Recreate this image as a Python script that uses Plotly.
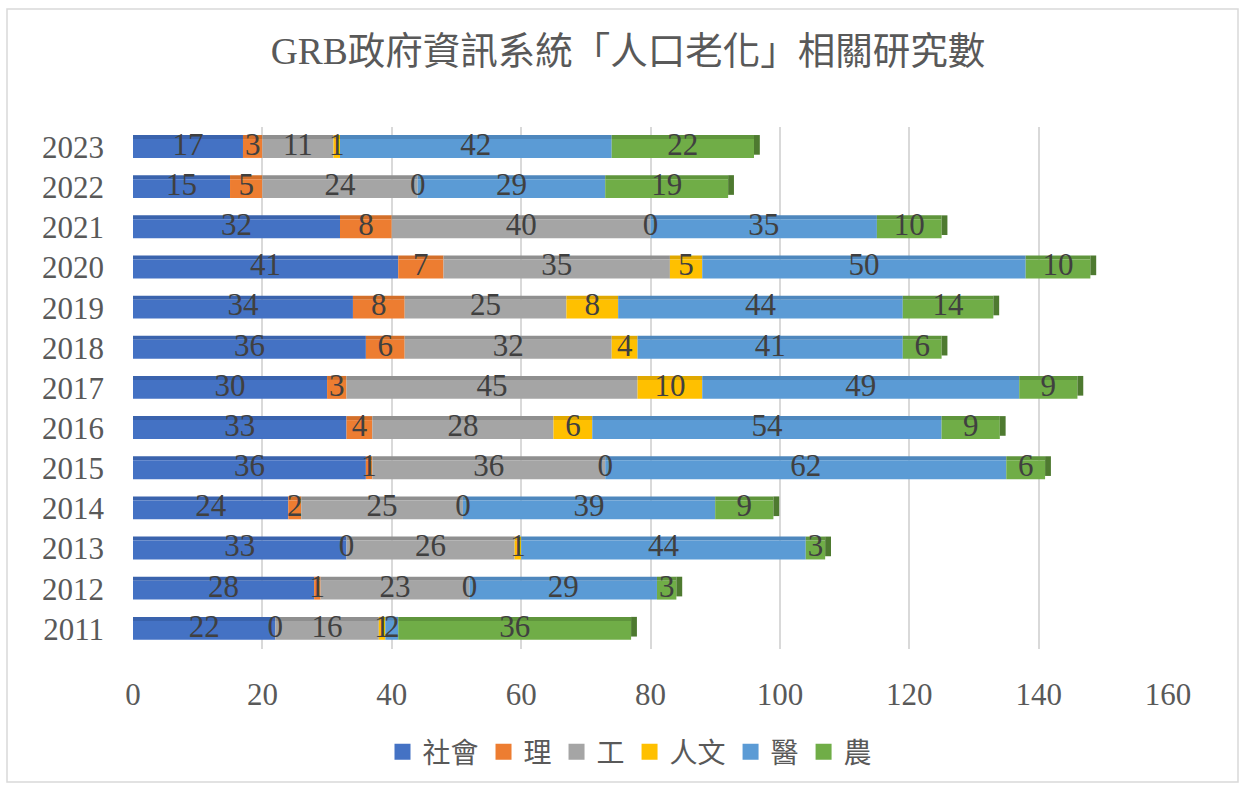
import numpy as np
import plotly.graph_objects as go

# ---------------- data ----------------
years = ['2011', '2012', '2013', '2014', '2015', '2016', '2017',
         '2018', '2019', '2020', '2021', '2022', '2023']
social = [22, 28, 33, 24, 36, 33, 30, 36, 34, 41, 32, 15, 17]
science = [0, 1, 0, 2, 1, 4, 3, 6, 8, 7, 8, 5, 3]
engineering = [16, 23, 26, 25, 36, 28, 45, 32, 25, 35, 40, 24, 11]
humanities = [1, 0, 1, 0, 0, 6, 10, 4, 8, 5, 0, 0, 1]
medicine = [2, 29, 44, 39, 62, 54, 49, 41, 44, 50, 35, 29, 42]
agriculture = [36, 3, 3, 9, 6, 9, 9, 6, 14, 10, 10, 19, 22]

series_names = ['社會', '理', '工', '人文', '醫', '農']
series_values = [social, science, engineering, humanities, medicine, agriculture]
x_ticks = [0, 20, 40, 60, 80, 100, 120, 140, 160]

title_text = 'GRB政府資訊系統「人口老化」相關研究數'

# ---------------- style ----------------
front_colors = ['#4472C4', '#ED7D31', '#A5A5A5', '#FFC000', '#5B9BD5', '#70AD47']
top_colors = ['#3A63AD', '#D36F2A', '#8F8F8F', '#E0A800', '#4E87BD', '#5F953C']
cap_color = '#4E7A30'

W, H = 1245, 789
L, R, T, B = 133, 1168, 127, 649  # plot area in px


def px_x(px):
    return (px - L) / (R - L)


def px_y(py):
    return (B - py) / (B - T)


serif = 'Liberation Serif, Noto Sans CJK TC, serif'
mixed = 'Liberation Serif, Noto Sans CJK TC, sans-serif'
text_grey = '#595959'
label_grey = '#404040'

FRONT_OFF, FRONT_W = -0.27, 0.47
TOP_W = 0.10

fig = go.Figure()

vals = np.array(series_values, dtype=float)
bases = np.vstack([np.zeros(len(years)), np.cumsum(vals, axis=0)[:-1]])
totals = vals.sum(axis=0)

# top (bevel) faces
for i, name in enumerate(series_names):
    fig.add_trace(go.Bar(
        y=years, x=vals[i], base=bases[i], orientation='h',
        offset=FRONT_OFF + FRONT_W, width=TOP_W,
        marker=dict(color=top_colors[i], line=dict(width=0)),
        showlegend=False, hoverinfo='skip'))

# front faces
for i, name in enumerate(series_names):
    fig.add_trace(go.Bar(
        y=years, x=vals[i], base=bases[i], orientation='h', name=name,
        offset=FRONT_OFF, width=FRONT_W, showlegend=False,
        marker=dict(color=front_colors[i], line=dict(width=0))))

# right end cap
fig.add_trace(go.Bar(
    y=years, x=[0.9] * len(years), base=totals, orientation='h',
    offset=FRONT_OFF + 0.08, width=FRONT_W + TOP_W - 0.08,
    marker=dict(color=cap_color, line=dict(width=0)),
    showlegend=False, hoverinfo='skip'))

# data labels
for i, name in enumerate(series_names):
    fig.add_trace(go.Scatter(
        y=years, x=bases[i] + vals[i] / 2, mode='text',
        text=[str(int(v)) for v in vals[i]], textposition='middle center',
        textfont=dict(family=serif, size=31, color=label_grey),
        showlegend=False, hoverinfo='skip'))

# legend entries (square swatches)
for i, name in enumerate(series_names):
    fig.add_trace(go.Scatter(
        x=[None], y=[None], mode='markers', name=name,
        marker=dict(symbol='square', size=16, color=front_colors[i]),
        hoverinfo='skip'))

fig.update_layout(
    width=W, height=H,
    barmode='overlay',
    paper_bgcolor='white', plot_bgcolor='white',
    margin=dict(l=L, r=W - R, t=T, b=H - B, pad=0),
    title=dict(text=title_text, x=628 / W, xref='container', xanchor='center',
               y=1 - 51 / H, yref='container', yanchor='middle',
               font=dict(family=mixed, size=37.5, color=text_grey)),
    xaxis=dict(range=[0, 160], tickvals=x_ticks, showgrid=True,
               gridcolor='#D9D9D9', gridwidth=2, zeroline=False,
               showline=False, ticks='', ticklabelstandoff=24,
               tickfont=dict(family=serif, size=31, color=text_grey)),
    yaxis=dict(type='category', categoryorder='array', categoryarray=years,
               range=[-0.5, 12.5], showgrid=False, zeroline=False,
               showline=False, ticks='', ticklabelstandoff=28,
               tickfont=dict(family=serif, size=31, color=text_grey)),
    legend=dict(orientation='h', x=px_x(630), xanchor='center',
                y=px_y(752), yanchor='middle', traceorder='normal',
                font=dict(family=mixed, size=28, color=text_grey),
                itemwidth=30, bgcolor='rgba(0,0,0,0)'),
    shapes=[dict(type='rect', xref='paper', yref='paper',
                 x0=px_x(7), x1=px_x(1238), y0=px_y(782), y1=px_y(9),
                 line=dict(color='#D9D9D9', width=1.5), layer='below')],
)

fig.write_html('out.html', config={'displayModeBar': False},
               post_script="document.body.style.margin='0';document.body.style.padding='0';")
